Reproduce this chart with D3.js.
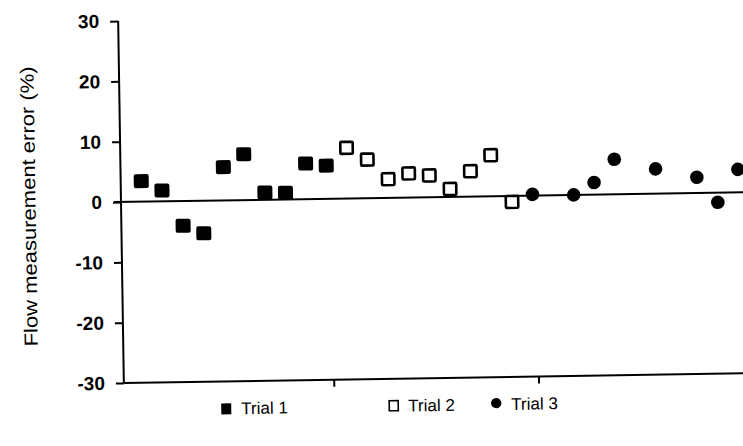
<!DOCTYPE html>
<html>
<head>
<meta charset="utf-8">
<script src="https://cdn.jsdelivr.net/npm/d3@7"></script>
<style>
  body { margin: 0; background: #fff; }
  svg { display: block; }
  .axis path, .axis line { stroke: #000; stroke-width: 2; }
  .axis text { font-family: "Liberation Sans", Arial, sans-serif; font-weight: bold; font-size: 19px; fill: #000; }
</style>
</head>
<body>
<div id="chart"></div>
<script>
// point index along the x axis and the measurement error (%) for each trial
const trial1X = [1, 2, 3, 4, 5, 6, 7, 8, 9, 10];
const trial1Y = [3.4, 1.8, -4.1, -5.4, 5.5, 7.6, 1.2, 1.1, 5.9, 5.5];
const trial2X = [11, 12, 13, 14, 15, 16, 17, 18, 19];
const trial2Y = [8.4, 6.4, 3.1, 4.0, 3.6, 1.3, 4.2, 6.8, -1.0];
const trial3X = [20, 22, 23, 24, 26, 28, 29, 30];
const trial3Y = [0.2, 0.0, 2.0, 5.8, 4.1, 2.6, -1.6, 3.8];

const yTicks = [-30, -20, -10, 0, 10, 20, 30];
const xTicks = [10.2, 20.15];
const legendLabels = ["Trial 1", "Trial 2", "Trial 3"];

const width = 743, height = 446;

const svg = d3.select("#chart")
  .append("svg")
  .attr("width", width)
  .attr("height", height);

const x = d3.scaleLinear().domain([0, 30.3]).range([121, 744.5]);
const y = d3.scaleLinear().domain([-30, 30]).range([383, 21]);

// the scanned figure sits slightly tilted
const g = svg.append("g")
  .attr("transform", `rotate(-0.9, ${x(0)}, ${y(0)})`);

// zero line
g.append("line")
  .attr("x1", x(0) - 7).attr("x2", 760)
  .attr("y1", y(0)).attr("y2", y(0))
  .attr("stroke", "#000").attr("stroke-width", 2);

const yAxis = d3.axisLeft(y)
  .tickValues(yTicks)
  .tickSize(8)
  .tickSizeOuter(0)
  .tickPadding(11)
  .tickFormat(d => String(d));

g.append("g")
  .attr("class", "axis y-axis")
  .attr("transform", `translate(${x(0)},0)`)
  .call(yAxis)
  .call(s => s.select(".domain").attr("d", `M0,${y(30)}V${y(-30)}`));

const xAxis = d3.axisBottom(x)
  .tickValues(xTicks)
  .tickSize(7)
  .tickSizeOuter(0)
  .tickFormat("");

g.append("g")
  .attr("class", "axis x-axis")
  .attr("transform", `translate(0,${y(-30)})`)
  .call(xAxis)
  .call(s => s.select(".domain").attr("d", `M${x(0)},0H760`));

// y axis title
g.append("text")
  .attr("transform", `translate(29,205) rotate(-90)`)
  .attr("text-anchor", "middle")
  .attr("dominant-baseline", "central")
  .attr("font-family", "Liberation Sans, Arial, sans-serif")
  .attr("font-size", 19)
  .attr("textLength", 280)
  .attr("lengthAdjust", "spacingAndGlyphs")
  .text("Flow measurement error (%)");

// trial 1: filled squares
g.selectAll(".t1")
  .data(d3.zip(trial1X, trial1Y))
  .join("rect")
  .attr("class", "t1")
  .attr("x", d => x(d[0]) - 7.5)
  .attr("y", d => y(d[1]) - 7)
  .attr("width", 15).attr("height", 14)
  .attr("rx", 2)
  .attr("fill", "#000");

// trial 2: open squares
g.selectAll(".t2")
  .data(d3.zip(trial2X, trial2Y))
  .join("rect")
  .attr("class", "t2")
  .attr("x", d => x(d[0]) - 6.2)
  .attr("y", d => y(d[1]) - 6)
  .attr("width", 12.4).attr("height", 12)
  .attr("rx", 1)
  .attr("fill", "#fff")
  .attr("stroke", "#000")
  .attr("stroke-width", 2.6);

// trial 3: filled circles
g.selectAll(".t3")
  .data(d3.zip(trial3X, trial3Y))
  .join("circle")
  .attr("class", "t3")
  .attr("cx", d => x(d[0]))
  .attr("cy", d => y(d[1]))
  .attr("r", 6.8)
  .attr("fill", "#000");

// legend
const legendX = [218, 385, 488];
const legend = g.append("g")
  .attr("font-family", "Liberation Sans, Arial, sans-serif")
  .attr("font-size", 17);

legend.append("rect")
  .attr("x", legendX[0]).attr("y", 405)
  .attr("width", 10).attr("height", 11)
  .attr("fill", "#000");
legend.append("rect")
  .attr("x", legendX[1] + 1).attr("y", 405)
  .attr("width", 9).attr("height", 10)
  .attr("fill", "none").attr("stroke", "#000").attr("stroke-width", 1.6);
legend.append("circle")
  .attr("cx", legendX[2] + 5).attr("cy", 409)
  .attr("r", 5.2)
  .attr("fill", "#000");

legend.selectAll(".label")
  .data(legendLabels)
  .join("text")
  .attr("class", "label")
  .attr("x", (d, i) => legendX[i] + 20)
  .attr("y", 416)
  .text(d => d);
</script>
</body>
</html>
